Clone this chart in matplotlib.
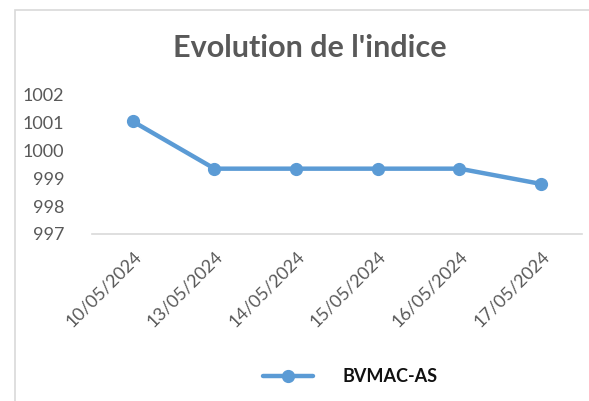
import matplotlib
matplotlib.use("Agg")
import matplotlib.pyplot as plt
from matplotlib.lines import Line2D
from matplotlib.patches import Rectangle

dates = ["10/05/2024", "13/05/2024", "14/05/2024", "15/05/2024", "16/05/2024", "17/05/2024"]
values = [1001.05, 999.35, 999.35, 999.35, 999.35, 998.8]
yticks = [997, 998, 999, 1000, 1001, 1002]
series_name = "BVMAC-AS"

plt.rcParams['font.family'] = ['Lato', 'DejaVu Sans']

fig = plt.figure(figsize=(5.89, 4.01), dpi=100)
fig.patch.set_facecolor('white')

# outer chart border (only left/top visible)
fig.add_artist(Rectangle((15/589, -0.1), 1.2, (401-10)/401 + 0.1, transform=fig.transFigure,
                         fill=False, edgecolor='#D9D9D9', linewidth=1.2))

ax = fig.add_axes([92/589, 1 - 234/401, (582-92)/589, (234-95)/401])
x = list(range(len(dates)))
ax.plot(x, values, color='#5B9BD5', linewidth=3.2, marker='o', markersize=8.5,
        solid_capstyle='round', solid_joinstyle='round')
ax.set_xlim(-0.5, len(dates) - 0.5)
ax.set_ylim(997, 1002)
ax.set_yticks(yticks)
ax.set_yticklabels([str(v) for v in yticks], fontsize=13, color='#595959')
ax.set_xticks(x)
ax.set_xticklabels(dates, rotation=45, ha='right', va='top', rotation_mode='anchor',
                   fontsize=13, color='#595959')
for s in ['top', 'right', 'left']:
    ax.spines[s].set_visible(False)
ax.spines['bottom'].set_color('#D9D9D9')
ax.spines['bottom'].set_linewidth(1.2)
ax.tick_params(axis='both', length=0)
ax.tick_params(axis='y', pad=20)
ax.tick_params(axis='x', pad=10)

fig.text(310/589, 1 - 48/401, "Evolution de l'indice", ha='center', va='center',
         fontsize=22, fontweight='bold', color='#595959')

handle = Line2D([], [], color='#5B9BD5', linewidth=3.2, marker='o', markersize=8.5,
                solid_capstyle='round')
fig.legend([handle], [series_name], loc='center', bbox_to_anchor=(350/589, 1 - 377/401),
           frameon=False, prop={'weight': 'bold', 'size': 13}, handlelength=2.8,
           handletextpad=1.6, labelcolor='#111111')

fig.savefig("out.png", dpi=100, facecolor='white')
